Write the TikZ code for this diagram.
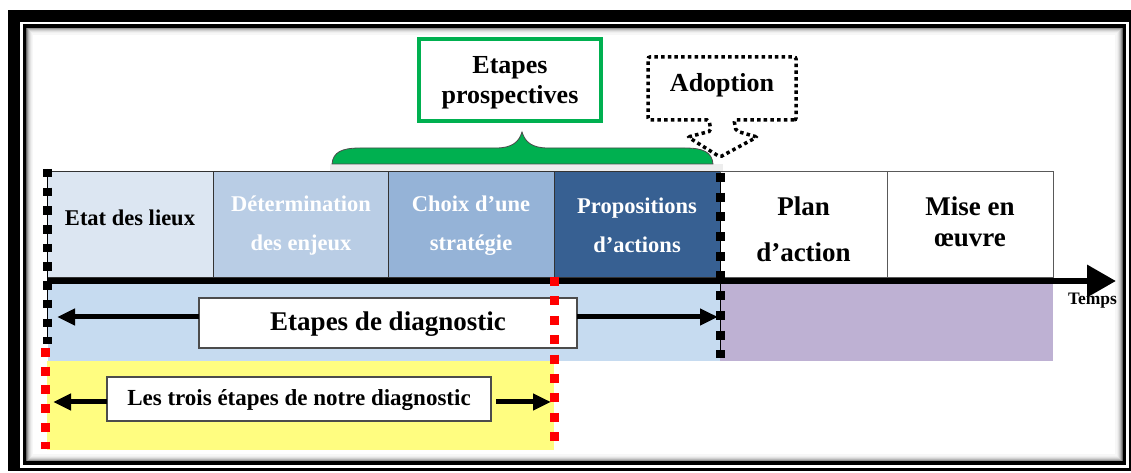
\documentclass[tikz,border=0pt]{standalone}
\usepackage{fontspec}
\setmainfont{Liberation Serif}
\usetikzlibrary{arrows.meta}
\definecolor{bxA}{HTML}{DCE6F2}
\definecolor{bxB}{HTML}{B9CDE5}
\definecolor{bxC}{HTML}{95B3D7}
\definecolor{bxD}{HTML}{376092}
\definecolor{bandblue}{HTML}{C6DBF0}
\definecolor{bandpurple}{RGB}{190,177,211}
\definecolor{bandyellow}{HTML}{FFFD80}
\definecolor{grn}{HTML}{00B050}
\definecolor{redd}{HTML}{FF0000}
\newcommand\fsA{\fontsize{22.5bp}{27bp}\selectfont\bfseries}
\newcommand\fsB{\fontsize{27bp}{32bp}\selectfont\bfseries}
\newcommand\fsC{\fontsize{26bp}{31bp}\selectfont\bfseries}
\newcommand\fsT{\fontsize{17.5bp}{20bp}\selectfont\bfseries}
\begin{document}
\begin{tikzpicture}[x=1bp,y=-1bp,
  boxst/.style={draw=black!80, line width=1bp, inner sep=0pt, outer sep=0pt, anchor=north west, minimum height=106bp},
  txtA/.style={font=\fsA, anchor=base, inner sep=0pt},
  txtW/.style={txtA, text=white},
  txtB/.style={font=\fsB, anchor=base, inner sep=0pt},
  txtC/.style={font=\fsC, anchor=base, inner sep=0pt},
  labbox/.style={draw=black!70, line width=1.5bp, fill=white, inner sep=0pt, outer sep=0pt},
  arr/.style={line width=5bp, -{Triangle[length=18bp,width=16bp]}},
  blkdots/.style={line width=9bp, dash pattern=on 8.5bp off 10.2bp},
  reddots/.style={redd, line width=9bp, dash pattern=on 9bp off 10bp}
]
\useasboundingbox (0,0) rectangle (1131,473);
% frame
\fill[black] (8,10) rectangle (1131,471);
\fill[white] (20,22) rectangle (1129,468);
\fill[white] (26,27) rectangle (1122.5,461.5);
\foreach \i/\c in {0/60,1/42,2/28,3/18,4/11,5/6,6/3}
  \draw[black!\c, line width=1.1bp] (26.5+\i, 28+\i) rectangle (1122-\i, 461-\i);
\draw[black, line width=3.5bp] (24.5,26) rectangle (1124.3,463);
% grey strip
\fill[black!7] (330,164) rectangle (723,172);
% bands
\fill[bandblue] (48,284) rectangle (720,361);
\fill[bandpurple] (720,284) rectangle (1053,361);
\fill[bandyellow] (47,361) rectangle (554,450);
% boxes
\node[boxst, fill=bxA, minimum width=166bp] (b1) at (47,172) {};
\node[boxst, fill=bxB, minimum width=175bp] (b2) at (213,172) {};
\node[boxst, fill=bxC, minimum width=166bp] (b3) at (388,172) {};
\node[boxst, fill=bxD, minimum width=166bp] (b4) at (554,172) {};
\node[boxst, fill=white, draw=black!65, minimum width=167bp] (b5) at (720,172) {};
\node[boxst, fill=white, draw=black!65, minimum width=166bp] (b6) at (887,172) {};
\node[txtA] (t1) at (130,226) {Etat des lieux};
\node[txtW] (t2a) at (301,212) {Détermination};
\node[txtW] (t2b) at (301,251) {des enjeux};
\node[txtW] (t3a) at (471,212) {Choix d’une};
\node[txtW] (t3b) at (471,251) {stratégie};
\node[txtW] (t4a) at (637,214) {Propositions};
\node[txtW] (t4b) at (637,253) {d’actions};
\node[txtB] (t5a) at (803.5,216) {Plan};
\node[txtB] (t5b) at (803.5,262) {d’action};
\node[txtB] (t6a) at (970,216) {Mise en};
\node[txtB] (t6b) at (970,247) {œuvre};
% time axis
\coordinate (ax0) at (47,281);
\coordinate (ax1) at (1116,281);
\draw[line width=6.5bp, -{Triangle[length=29bp,width=31bp]}] (ax0) -- (ax1);
\node[font=\fsT, anchor=base, inner sep=0pt] (temps) at (1092.5,305) {Temps};
% green brace
\draw[fill=grn, draw=black!70, line width=0.8bp]
  (332,164) .. controls (333,152) and (342,148) .. (360,148) -- (496,148)
  .. controls (512,148) and (519,142) .. (522,132)
  .. controls (525,142) and (532,148) .. (548,148) -- (685,148)
  .. controls (703,148) and (712,152) .. (713,164) -- cycle;
% green box
\node[draw=grn, line width=4.5bp, minimum width=182bp, minimum height=82bp, inner sep=0pt] (gbox) at (510,80) {};
\node[txtC] (g1) at (510,74) {Etapes};
\node[txtC] (g2) at (510,104) {prospectives};
% adoption callout
\draw[black, line width=3.5bp, dash pattern=on 3.5bp off 3.2bp, rounded corners=2bp]
  (796,120) -- (734,120) -- (736,131) -- (757,137) -- (720,157) -- (688,137) -- (711,131) -- (709,120) -- (648,120) -- (648,57) -- (796,57) -- cycle;
\node[txtC] (adop) at (722,92) {Adoption};
% diagnostic labels
\node[labbox, minimum width=378bp, minimum height=50bp] (diag) at (388,323) {};
\node[txtC, font=\fontsize{27bp}{31bp}\selectfont\bfseries] (diagt) at (388,331) {Etapes de diagnostic};
\coordinate (dl) at (57,317);
\coordinate (dr) at (718,317);
\draw[arr] (diag.west |- dl) -- (dl);
\draw[arr] (diag.east |- dr) -- (dr);
\node[labbox, minimum width=384bp, minimum height=44bp] (trois) at (299,399) {};
\node[txtA, font=\fontsize{23bp}{27bp}\selectfont\bfseries] (troist) at (299,406) {Les trois étapes de notre diagnostic};
\coordinate (tl) at (53,402);
\coordinate (tr0) at (496,402);
\coordinate (tr) at (551,402);
\draw[arr] (trois.west |- tl) -- (tl);
\draw[arr] (tr0) -- (tr);
% dotted separators
\coordinate (lk0) at (47,169); \coordinate (lk1) at (47,344);
\draw[black, line width=1bp] (lk0) -- (lk1);
\draw[black, blkdots] (lk0) -- (lk1);
\coordinate (lr0) at (45.5,348); \coordinate (lr1) at (45.5,449);
\draw[reddots, dash pattern=on 9bp off 9.7bp] (lr0) -- (lr1);
\coordinate (rk0) at (720.5,173); \coordinate (rk1) at (720.5,358);
\draw[black, line width=1bp] (rk0) -- (rk1);
\draw[black, blkdots, dash pattern=on 9bp off 10.7bp] (rk0) -- (rk1);
\coordinate (mr0) at (554,277); \coordinate (mr1) at (554,441);
\draw[reddots, dash pattern=on 9bp off 10.4bp] (mr0) -- (mr1);
\end{tikzpicture}
\end{document}
